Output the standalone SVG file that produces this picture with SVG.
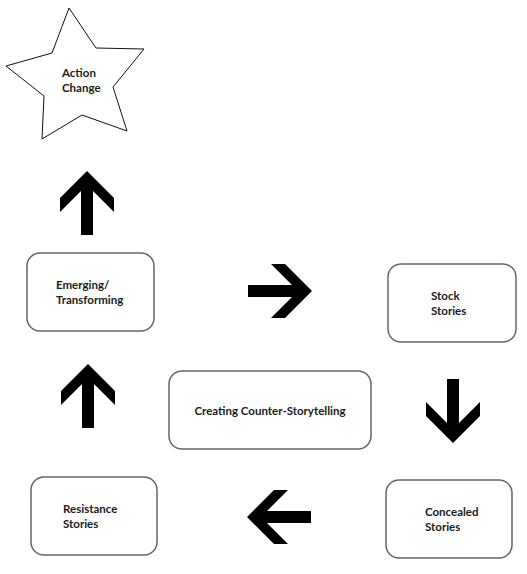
<svg xmlns="http://www.w3.org/2000/svg" width="527" height="574" viewBox="0 0 527 574">
<defs>
<style>
.box{fill:#fff;stroke:#666;stroke-width:1.5}
.star{fill:#fff;stroke:#111;stroke-width:1}
.t{font-family:Lato,"Liberation Sans",sans-serif;font-weight:bold;font-size:11.5px;fill:#1a1a1a}
.arrow{fill:#000}
</style>
<path id="arr" d="M0,0 L27,27 L27,41 L6,20 L6,64 L-6,64 L-6,20 L-27,41 L-27,27 Z"/>
</defs>
<rect width="527" height="574" fill="#fff"/>
<g id="action-change">
<polygon class="star" points="69,8 96,48 144,49 113,87 127,131 82,115 42,139 44,96 6,66 52,53"/>
<text class="t" x="62" y="77">Action</text>
<text class="t" x="62" y="92">Change</text>
</g>
<g id="emerging">
<rect class="box" x="27" y="253" width="127" height="78" rx="13"/>
<text class="t" x="56" y="289">Emerging/</text>
<text class="t" x="56" y="304">Transforming</text>
</g>
<g id="stock">
<rect class="box" x="388" y="264" width="128" height="78" rx="13"/>
<text class="t" x="431" y="300">Stock</text>
<text class="t" x="431" y="315">Stories</text>
</g>
<g id="creating">
<rect class="box" x="169" y="371" width="202" height="78" rx="13"/>
<text class="t" x="270" y="415" text-anchor="middle">Creating Counter-Storytelling</text>
</g>
<g id="concealed">
<rect class="box" x="386" y="480" width="126" height="78" rx="13"/>
<text class="t" x="425" y="516">Concealed</text>
<text class="t" x="425" y="531">Stories</text>
</g>
<g id="resistance">
<rect class="box" x="31" y="477" width="126" height="78" rx="13"/>
<text class="t" x="63" y="513">Resistance</text>
<text class="t" x="63" y="528">Stories</text>
</g>
<g id="connectors" class="arrow">
<use href="#arr" transform="translate(87,171)"/>
<use href="#arr" transform="translate(88,364)"/>
<use href="#arr" transform="translate(312,291) rotate(90)"/>
<use href="#arr" transform="translate(453,443) rotate(180)"/>
<use href="#arr" transform="translate(247,517) rotate(-90)"/>
</g>
</svg>
